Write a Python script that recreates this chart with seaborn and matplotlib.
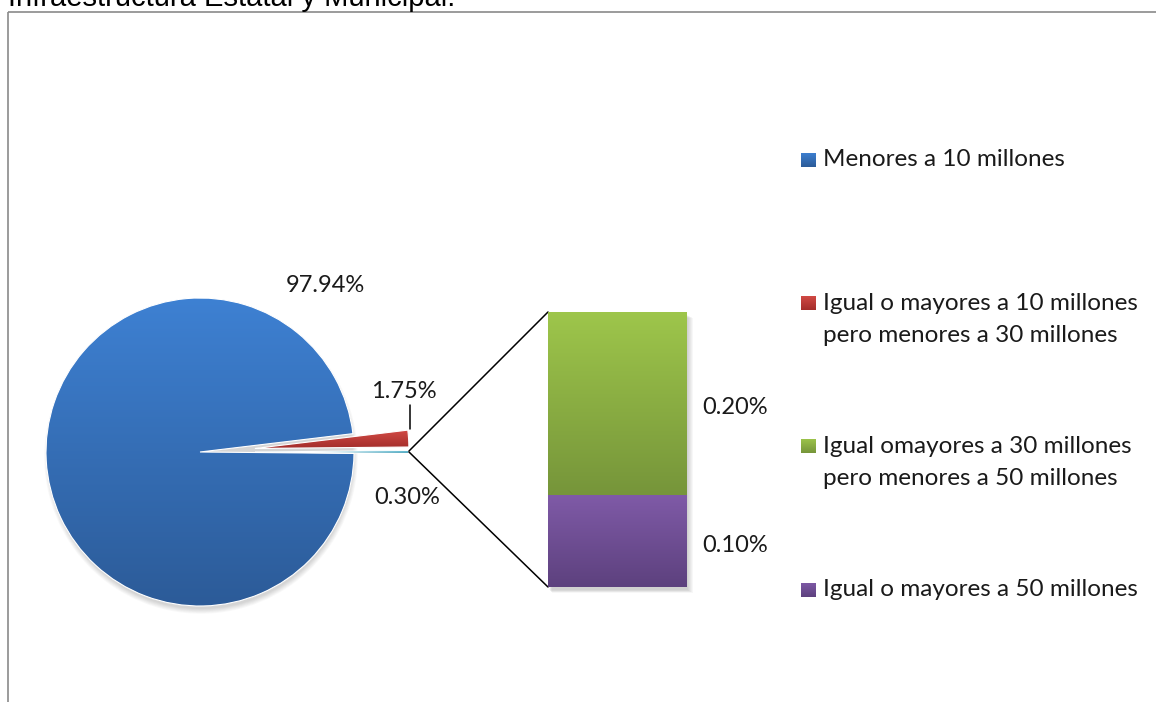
import numpy as np
import pandas as pd
import matplotlib
matplotlib.use("Agg")
import matplotlib.pyplot as plt
import seaborn as sns
from matplotlib.patches import Rectangle, Circle
from matplotlib.colors import LinearSegmentedColormap

# ---- data -------------------------------------------------------------
title = "Infraestructura Estatal y Municipal."
categories = [
    "Menores a 10 millones",
    "Igual o mayores a 10 millones\npero menores a 30 millones",
    "Igual omayores a 30 millones\npero menores a 50 millones",
    "Igual o mayores a 50 millones",
]
shares = [97.94, 1.75, 0.20, 0.10]        # percent of projects
bar_shares = shares[2:]                    # broken out in the stacked bar
other_share = round(sum(bar_shares), 2)    # "0.30%" slice of the pie

# gradient colours per category (top, bottom)
grad_colors = [
    ("#3E81D3", "#2C5B98"),
    ("#D44B46", "#A42E2B"),
    ("#9EC64B", "#76953A"),
    ("#7F5AA7", "#5D417E"),
]
other_colors = ("#5CC3DC", "#3B98B2")

# ---- layout (pixels, y up) -------------------------------------------
W, H = 1156, 702
CX, CY, R, EXP = 200, 250, 154, 55
BAR_L, BAR_B, BAR_W, BAR_H = 548, 115, 139, 275

sns.set_theme(style="white")
plt.rcParams["font.family"] = ["Lato", "DejaVu Sans"]

fig = plt.figure(figsize=(W / 100, H / 100), dpi=100)
ax = fig.add_axes([0, 0, 1, 1])


def gradient_fill(axis, patch, top, bottom, y_range=None):
    """Paint a vertical gradient clipped to a patch, keeping its edge."""
    verts = patch.get_patch_transform().transform(patch.get_path().vertices)
    x0, y0 = verts.min(axis=0)
    x1, y1 = verts.max(axis=0)
    if y_range is not None:
        y0, y1 = y_range
    cmap = LinearSegmentedColormap.from_list("g", [bottom, top])
    img = axis.imshow(np.linspace(0, 1, 256).reshape(-1, 1), extent=[x0, x1, y0, y1],
                      origin="lower", cmap=cmap, aspect="auto",
                      zorder=patch.get_zorder() - 0.01, interpolation="bilinear")
    img.set_clip_path(patch)
    patch.set_facecolor("none")
    return img


# soft shadow under the pie
for k in range(7):
    ax.add_patch(Circle((CX + 1, CY - 5), R - 2 + k * 0.8, color="black",
                        alpha=0.022, lw=0, zorder=0.5))

# pie: "other" slice centred on 3 o'clock, then the 10-30 slice, then the rest
pie_vals = [other_share, shares[1], shares[0]]
start = -other_share / 100 * 360 / 2
wedges, _ = ax.pie(pie_vals, radius=R, center=(CX, CY), startangle=start,
                   counterclock=True, explode=[EXP, EXP, 0],
                   colors=[other_colors[0], grad_colors[1][0], grad_colors[0][0]],
                   wedgeprops=dict(edgecolor="white", linewidth=0.8, zorder=2))
gradient_fill(ax, wedges[0], *other_colors)
gradient_fill(ax, wedges[1], *grad_colors[1])
gradient_fill(ax, wedges[2], *grad_colors[0])

# connector lines from the exploded slice to the bar
tip = (CX + EXP + R, CY)
ax.plot([tip[0], BAR_L], [tip[1] + 1, BAR_B + BAR_H], color="black", lw=1.1, zorder=3)
ax.plot([tip[0], BAR_L], [tip[1], BAR_B], color="black", lw=1.1, zorder=3)

# shadow behind the bar
for k in range(6):
    ax.add_patch(Rectangle((BAR_L + 1 + k * 0.6, BAR_B - 3 - k * 0.6), BAR_W + k * 0.4,
                           BAR_H, color="black", alpha=0.03, lw=0, zorder=0.5))

# percentage labels
lab_kw = dict(fontsize=17, color="#1a1a1a", ha="center", va="center", zorder=4)
ax.text(325, 416, f"{shares[0]:.2f}%", **lab_kw)
ax.text(404, 311, f"{shares[1]:.2f}%", **lab_kw)
ax.plot([410, 410], [297, 273], color="black", lw=1.1, zorder=3)
ax.text(407, 205, f"{other_share:.2f}%", **lab_kw)
ax.text(735, 294, f"{bar_shares[0]:.2f}%", **lab_kw)
ax.text(735, 157, f"{bar_shares[1]:.2f}%", **lab_kw)

# legend
sq = 15
legend_rows = [(160, 160), (303, 319.5), (446, 462.5), (590, 590)]
for (sq_y, txt_y), label, (top, bottom) in zip(legend_rows, categories, grad_colors):
    rect = Rectangle((801, H - sq_y - sq / 2), sq, sq, lw=0, zorder=3)
    ax.add_patch(rect)
    gradient_fill(ax, rect, top, bottom)
    ax.text(823, H - txt_y, label, fontsize=17.5, color="#1a1a1a", ha="left",
            va="center", linespacing=1.6, zorder=4)

# title and frame
ax.text(8, H - 6, title, fontsize=21, family=["Liberation Sans", "DejaVu Sans"],
        ha="left", va="baseline", color="black")
ax.plot([8, W], [H - 12, H - 12], color="#8a8a8a", lw=1.2, solid_capstyle="butt")
ax.plot([8, 8], [H - 12, 0], color="#8a8a8a", lw=1.2, solid_capstyle="butt")

ax.set_xlim(0, W)
ax.set_ylim(0, H)
ax.set_aspect("auto")
ax.axis("off")

# stacked bar for the two smallest categories
bar_ax = fig.add_axes([BAR_L / W, BAR_B / H, BAR_W / W, BAR_H / H])
bar_df = pd.DataFrame({"pos": [0, 0], "top": np.cumsum(bar_shares[::-1])[::-1]})
sns.barplot(x=[0], y=[bar_df["top"][0]], color=grad_colors[2][0], width=1,
            errorbar=None, ax=bar_ax, linewidth=0)
sns.barplot(x=[0], y=[bar_df["top"][1]], color=grad_colors[3][0], width=1,
            errorbar=None, ax=bar_ax, linewidth=0)
g_patch, p_patch = bar_ax.patches[0], bar_ax.patches[1]
gradient_fill(bar_ax, g_patch, *grad_colors[2], y_range=(bar_shares[1], other_share))
gradient_fill(bar_ax, p_patch, *grad_colors[3], y_range=(0, bar_shares[1]))
bar_ax.set_xlim(-0.5, 0.5)
bar_ax.set_ylim(0, other_share)
bar_ax.axis("off")

fig.savefig("out.png", dpi=100)
